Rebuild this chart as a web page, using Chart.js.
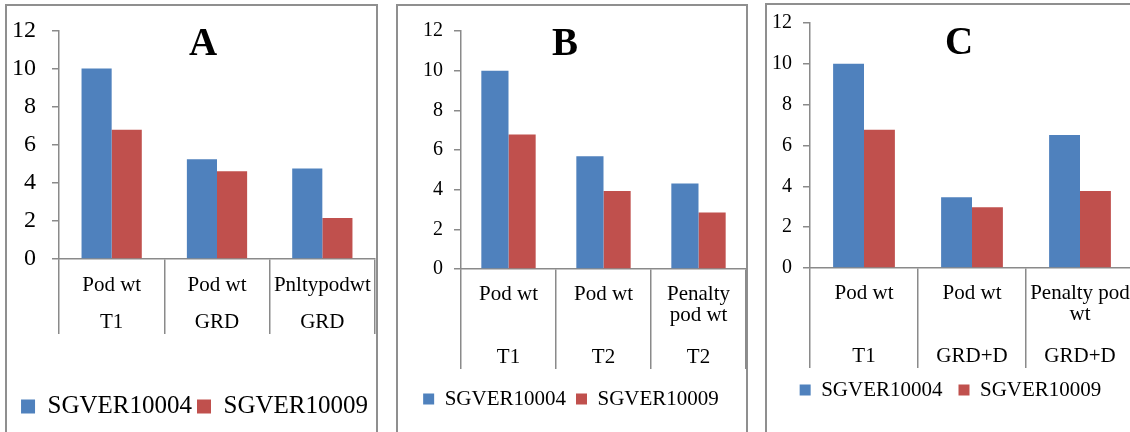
<!DOCTYPE html>
<html lang="en">
<head>
   <meta charset="UTF-8">
   <title>Pod weight - SGVER10004 vs SGVER10009</title>
   <script src="https://cdn.jsdelivr.net/npm/chart.js"></script>
   <style>
       body, html {
           margin: 0;
           padding: 0;
           background-color: white;
           overflow: hidden;
           width: 1130px;
           height: 432px;
           font-family: 'Liberation Serif', 'Times New Roman', serif;
       }

       .frame {
           position: absolute;
           border: 2px solid #8f8f8f;
           border-bottom: none;
           box-sizing: border-box;
           height: 450px;
       }

       .panel-canvas {
           position: absolute;
           top: 0;
       }

       .letter {
           position: absolute;
           width: 60px;
           margin-left: -30px;
           text-align: center;
           font-weight: bold;
           font-size: 39px;
           line-height: 39px;
           color: #000;
       }
   </style>
</head>
<body>

   <div class="frame" style="left:5px; top:4px; width:373px;"></div>
   <div class="frame" style="left:396px; top:4px; width:352px;"></div>
   <div class="frame" style="left:765px; top:3px; width:380px;"></div>

   <canvas id="chart-a" class="panel-canvas" style="left:0px;" width="376" height="432"></canvas>
   <canvas id="chart-b" class="panel-canvas" style="left:396px;" width="351" height="432"></canvas>
   <canvas id="chart-c" class="panel-canvas" style="left:767px;" width="368" height="432"></canvas>

   <div class="letter" style="left:203px; top:22px;">A</div>
   <div class="letter" style="left:565px; top:22px;">B</div>
   <div class="letter" style="left:959px; top:21px;">C</div>

   <script>
    const seriesNames = ['SGVER10004', 'SGVER10009'];
    const yMin = 0, yMax = 12, yStep = 2;

    // panel A
    const labelsA = [['Pod wt', 'T1'], ['Pod wt', 'GRD'], ['Pnltypodwt', 'GRD']];
    const sgver04A = [10, 5.23, 4.75];
    const sgver09A = [6.78, 4.61, 2.15];

    // panel B
    const labelsB = [['Pod wt', '', '', 'T1'], ['Pod wt', '', '', 'T2'], ['Penalty', 'pod wt', '', 'T2']];
    const sgver04B = [10, 5.69, 4.31];
    const sgver09B = [6.78, 3.93, 2.85];

    // panel C
    const labelsC = [['Pod wt', '', '', 'T1'], ['Pod wt', '', '', 'GRD+D'], ['Penalty pod', 'wt', '', 'GRD+D']];
    const sgver04C = [10, 3.46, 6.51];
    const sgver09C = [6.77, 2.98, 3.77];

    const blue = '#4F81BD';
    const red = '#C0504D';
    const axisGray = '#8a8a8a';
    const serif = "'Liberation Serif', 'Times New Roman', serif";

    function makeChart(id, labels, s1, s2, g) {
        const ctx = document.getElementById(id).getContext('2d');
        return new Chart(ctx, {
            type: 'bar',
            data: {
                labels: labels,
                datasets: [
                    { label: seriesNames[0], data: s1, backgroundColor: blue },
                    { label: seriesNames[1], data: s2, backgroundColor: red }
                ]
            },
            options: {
                responsive: false,
                animation: false,
                devicePixelRatio: 1,
                categoryPercentage: 0.572,
                barPercentage: 1.0,
                layout: { padding: g.padding },
                plugins: {
                    tooltip: { enabled: false },
                    legend: {
                        position: 'bottom',
                        labels: {
                            color: '#000',
                            boxWidth: g.box,
                            boxHeight: g.box,
                            padding: g.legendPad,
                            font: { family: serif, size: g.legendFont }
                        }
                    }
                },
                scales: {
                    x: {
                        grid: {
                            offset: true,
                            drawOnChartArea: false,
                            tickLength: g.sepLength,
                            color: axisGray,
                            lineWidth: 1.5
                        },
                        border: { color: axisGray, width: 1.5 },
                        ticks: {
                            color: '#000',
                            autoSkip: false,
                            maxRotation: 0,
                            minRotation: 0,
                            padding: g.labelPad,
                            font: { family: serif, size: 21, lineHeight: g.lineHeight }
                        },
                        afterFit: function (s) { s.height = g.xHeight; }
                    },
                    y: {
                        min: yMin,
                        max: yMax,
                        grid: {
                            drawOnChartArea: false,
                            tickLength: 7,
                            color: axisGray,
                            lineWidth: 1.5
                        },
                        border: { color: axisGray, width: 1.5 },
                        ticks: {
                            stepSize: yStep,
                            color: '#000',
                            padding: g.yPad,
                            font: { family: serif, size: g.yFont }
                        },
                        afterFit: function (s) { s.width = g.yWidth; }
                    }
                }
            }
        });
    }

    makeChart('chart-a', labelsA, sgver04A, sgver09A, {
        padding: { left: 14, right: 1, top: 20, bottom: 3 },
        box: 14, legendPad: 5, legendFont: 25,
        sepLength: 75, labelPad: -67.5, lineHeight: '37px', xHeight: 130,
        yPad: 16, yFont: 24, yWidth: 45
    });

    makeChart('chart-b', labelsB, sgver04B, sgver09B, {
        padding: { left: 0, right: 1, top: 31, bottom: 12.5 },
        box: 11, legendPad: 10, legendFont: 21,
        sepLength: 100, labelPad: -85.5, lineHeight: '21px', xHeight: 109.5,
        yPad: 11, yFont: 20, yWidth: 65
    });

    makeChart('chart-c', labelsC, sgver04C, sgver09C, {
        padding: { left: 0, right: 1, top: 15, bottom: 21.5 },
        box: 11, legendPad: 16, legendFont: 21,
        sepLength: 100, labelPad: -85.5, lineHeight: '21px', xHeight: 95.5,
        yPad: 11, yFont: 20, yWidth: 43
    });
   </script>
</body>
</html>
